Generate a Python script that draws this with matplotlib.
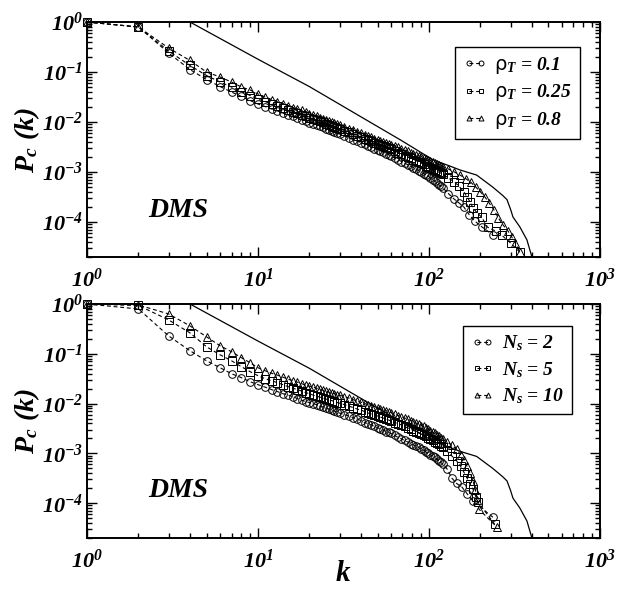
import matplotlib
matplotlib.use("Agg")
import matplotlib.pyplot as plt
from matplotlib.ticker import FuncFormatter, LogLocator, NullFormatter
import numpy as np

# shared degree grid for the dense part of every curve
k_grid = [1, 2, 3, 4, 5, 6, 7, 8, 9, 10,
          11, 12, 13, 14, 15, 16, 17, 18, 19, 20,
          21, 22, 23, 24, 25, 26, 27, 28, 29, 30,
          32, 34, 36, 38, 40, 42, 44, 46, 48, 50,
          52, 54, 56, 58, 60, 63, 66, 69, 72, 75,
          78, 81, 84, 87, 90, 93, 96, 99, 102, 105,
          108, 111, 114, 117, 120]

# top panel: rho_T series
p_rho01 = [1.0, 0.794, 0.240, 0.112, 0.0708, 0.0513, 0.0398, 0.0324, 0.0269, 0.0229,
           0.0204, 0.0182, 0.0166, 0.0151, 0.0138, 0.0129, 0.0120, 0.0112, 0.0105, 0.00977,
           0.00933, 0.00891, 0.00832, 0.00794, 0.00741, 0.00708, 0.00661, 0.00631, 0.00603, 0.00575,
           0.00525, 0.00479, 0.00447, 0.00417, 0.00389, 0.00363, 0.00339, 0.00316, 0.00295, 0.00282,
           0.00263, 0.00251, 0.00234, 0.00224, 0.00209, 0.00191, 0.00178, 0.00162, 0.00151, 0.00141,
           0.00132, 0.00123, 0.00115, 0.00107, 0.00100, 0.000933, 0.000891, 0.000832, 0.000759, 0.000708,
           0.000661, 0.000603, 0.000562, 0.000525, 0.000490]
k_rho01_tail = [130, 140, 150, 160, 172, 185, 205, 237]
p_rho01_tail = [0.00037, 0.00029, 0.00024, 0.00020, 0.00014, 0.000105, 0.000079, 0.000055]

p_rho025 = [1.0, 0.794, 0.263, 0.135, 0.0851, 0.0631, 0.0501, 0.0407, 0.0339, 0.0288,
            0.0257, 0.0229, 0.0209, 0.0191, 0.0174, 0.0162, 0.0151, 0.0141, 0.0132, 0.0123,
            0.0115, 0.0110, 0.0105, 0.0100, 0.00933, 0.00891, 0.00851, 0.00813, 0.00776, 0.00741,
            0.00676, 0.00631, 0.00575, 0.00537, 0.00501, 0.00468, 0.00437, 0.00417, 0.00389, 0.00372,
            0.00347, 0.00331, 0.00316, 0.00302, 0.00288, 0.00263, 0.00245, 0.00229, 0.00214, 0.00200,
            0.00191, 0.00178, 0.00170, 0.00158, 0.00151, 0.00145, 0.00135, 0.00129, 0.00123, 0.00117,
            0.00112, 0.00107, 0.00100, 0.000955, 0.000912]
k_rho025_tail = [130, 141, 150, 160, 168, 174, 181, 192, 203, 220, 245, 266, 300, 340]
p_rho025_tail = [0.00076, 0.00063, 0.00052, 0.00040, 0.00031, 0.00025, 0.00019,
                 0.000151, 0.000126, 0.000079, 0.000066, 0.000055, 0.000038, 0.000025]

p_rho08 = [1.0, 0.794, 0.302, 0.170, 0.100, 0.0794, 0.0631, 0.0501, 0.0437, 0.0363,
           0.0316, 0.0282, 0.0257, 0.0234, 0.0214, 0.0195, 0.0182, 0.0170, 0.0158, 0.0148,
           0.0138, 0.0132, 0.0123, 0.0117, 0.0110, 0.0105, 0.0100, 0.00955, 0.00912, 0.00871,
           0.00813, 0.00741, 0.00692, 0.00646, 0.00603, 0.00562, 0.00525, 0.00501, 0.00468, 0.00447,
           0.00427, 0.00407, 0.00389, 0.00372, 0.00355, 0.00331, 0.00316, 0.00295, 0.00275, 0.00263,
           0.00245, 0.00234, 0.00224, 0.00214, 0.00200, 0.00191, 0.00182, 0.00178, 0.00170, 0.00162,
           0.00155, 0.00148, 0.00141, 0.00135, 0.00129]
k_rho08_tail = [130, 141, 152, 164, 176, 188, 200, 212, 225, 240, 255, 270, 290, 305, 320, 340]
p_rho08_tail = [0.00115, 0.00100, 0.00087, 0.00074, 0.00062, 0.00050, 0.00040, 0.00032,
                0.00024, 0.000174, 0.000120, 0.000089, 0.000066, 0.000050, 0.000038,
                0.000025]

# bottom panel: N_s series
p_ns2 = [1.0, 0.794, 0.229, 0.115, 0.0724, 0.0525, 0.0398, 0.0331, 0.0275, 0.0240,
         0.0214, 0.0191, 0.0174, 0.0158, 0.0148, 0.0138, 0.0126, 0.0117, 0.0110, 0.0105,
         0.0100, 0.00955, 0.00891, 0.00851, 0.00813, 0.00776, 0.00741, 0.00708, 0.00676, 0.00646,
         0.00603, 0.00562, 0.00525, 0.00490, 0.00457, 0.00417, 0.00398, 0.00372, 0.00347, 0.00331,
         0.00309, 0.00295, 0.00275, 0.00263, 0.00251, 0.00229, 0.00209, 0.00195, 0.00182, 0.00170,
         0.00158, 0.00148, 0.00141, 0.00132, 0.00123, 0.00117, 0.00107, 0.00100, 0.000933, 0.000891,
         0.000832, 0.000776, 0.000708, 0.000661, 0.000617]
k_ns2_tail = [128, 136, 145, 156, 168, 181, 237]
p_ns2_tail = [0.00048, 0.00032, 0.00025, 0.00021, 0.000151, 0.00011, 0.000052]

p_ns5 = [1.0, 0.933, 0.479, 0.263, 0.138, 0.0955, 0.0724, 0.0550, 0.0437, 0.0363,
         0.0316, 0.0288, 0.0263, 0.0240, 0.0219, 0.0204, 0.0191, 0.0178, 0.0166, 0.0158,
         0.0148, 0.0141, 0.0135, 0.0129, 0.0123, 0.0120, 0.0115, 0.0110, 0.0105, 0.0102,
         0.00955, 0.00891, 0.00832, 0.00776, 0.00741, 0.00692, 0.00646, 0.00617, 0.00589, 0.00562,
         0.00537, 0.00513, 0.00490, 0.00468, 0.00447, 0.00417, 0.00398, 0.00372, 0.00347, 0.00324,
         0.00309, 0.00288, 0.00275, 0.00257, 0.00245, 0.00229, 0.00219, 0.00204, 0.00195, 0.00182,
         0.00170, 0.00162, 0.00151, 0.00141, 0.00132]
k_ns5_tail = [128, 136, 145, 153, 160, 167, 174, 181, 188, 194, 242]
p_ns5_tail = [0.00110, 0.00089, 0.00071, 0.00055, 0.00042, 0.00032, 0.00024, 0.00019,
              0.000135, 0.000105, 0.000038]

p_ns10 = [1.0, 0.955, 0.631, 0.363, 0.219, 0.145, 0.110, 0.0832, 0.0661, 0.0525,
          0.0457, 0.0407, 0.0372, 0.0339, 0.0309, 0.0288, 0.0269, 0.0251, 0.0234, 0.0224,
          0.0214, 0.0204, 0.0195, 0.0186, 0.0178, 0.0170, 0.0162, 0.0158, 0.0151, 0.0148,
          0.0138, 0.0129, 0.0120, 0.0112, 0.0107, 0.0100, 0.00955, 0.00912, 0.00871, 0.00832,
          0.00794, 0.00759, 0.00724, 0.00692, 0.00661, 0.00617, 0.00575, 0.00550, 0.00513, 0.00490,
          0.00457, 0.00437, 0.00407, 0.00389, 0.00363, 0.00347, 0.00324, 0.00302, 0.00282, 0.00269,
          0.00251, 0.00234, 0.00219, 0.00204, 0.00191]
k_ns10_tail = [128, 136, 145, 153, 160, 167, 174, 181, 187, 192, 196, 250]
p_ns10_tail = [0.00170, 0.00145, 0.00120, 0.00095, 0.00074, 0.00055, 0.00040, 0.00028,
               0.000186, 0.000115, 0.000076, 0.000033]

# reference solid curve (same in both panels)
k_ref = [4, 10, 20, 43, 68, 106, 130, 152, 190, 236, 270, 286, 300, 310, 340, 374, 400]
p_ref = [1.0, 0.18, 0.051, 0.011, 0.0044, 0.00174, 0.00135, 0.0011, 0.00087, 0.0005,
         0.00034, 0.00028, 0.00018, 0.000126, 0.00008, 0.000044, 0.00002]

labels_top = [r"$\mathsf{\rho}_{T}$ = 0.1", r"$\mathsf{\rho}_{T}$ = 0.25", r"$\mathsf{\rho}_{T}$ = 0.8"]
labels_bot = [r"$N_s$ = 2", r"$N_s$ = 5", r"$N_s$ = 10"]
markers = ["o", "s", "^"]

plt.rcParams['font.family'] = 'Liberation Serif'
plt.rcParams['font.weight'] = 'bold'
plt.rcParams['font.style'] = 'italic'
plt.rcParams['mathtext.fontset'] = 'custom'
plt.rcParams['mathtext.rm'] = 'Liberation Serif:bold:italic'
plt.rcParams['mathtext.it'] = 'Liberation Serif:bold:italic'
plt.rcParams['mathtext.bf'] = 'Liberation Serif:bold:italic'
plt.rcParams['mathtext.sf'] = 'DejaVu Sans:style=normal:weight=normal'


def pow_label(v, pos):
    return r"$10^{%d}$" % int(round(np.log10(v)))


def draw_panel(ax, series, labels, leg_anchor, dms_y):
    for (k, p), m, lab in zip(series, markers, labels):
        ax.plot(k, p, linestyle=(0, (3.5, 2.5)), color="black", lw=0.8,
                marker=m, markersize=5.5, markerfacecolor="none",
                markeredgecolor="black", markeredgewidth=0.7,
                label=lab, clip_on=False, zorder=3)
    ax.plot(k_ref, p_ref, "-", color="black", lw=0.9, zorder=2)

    ax.set_xscale("log")
    ax.set_yscale("log")
    ax.set_xlim(1, 1000)
    ax.set_ylim(2e-5, 1.0)

    ax.xaxis.set_major_locator(LogLocator(base=10, numticks=10))
    ax.xaxis.set_minor_locator(LogLocator(base=10, subs=np.arange(2, 10), numticks=10))
    ax.yaxis.set_major_locator(LogLocator(base=10, numticks=10))
    ax.yaxis.set_minor_locator(LogLocator(base=10, subs=np.arange(2, 10), numticks=10))
    ax.xaxis.set_major_formatter(FuncFormatter(pow_label))
    ax.yaxis.set_major_formatter(FuncFormatter(pow_label))
    ax.xaxis.set_minor_formatter(NullFormatter())
    ax.yaxis.set_minor_formatter(NullFormatter())

    ax.tick_params(which="both", direction="in", top=True, right=True, width=1.0)
    ax.tick_params(which="major", length=7, labelsize=16)
    ax.tick_params(which="minor", length=3.5)
    ax.tick_params(axis="x", which="major", pad=8)
    ax.tick_params(axis="y", which="major", pad=3)
    for s in ax.spines.values():
        s.set_linewidth(1.4)

    ax.set_ylabel(r"$P_c\ (k)$", fontsize=20, labelpad=0)
    ax.text(0.12, dms_y, "DMS", transform=ax.transAxes, fontsize=20)

    leg = ax.legend(loc="upper right", bbox_to_anchor=leg_anchor, fontsize=14,
                    numpoints=2, handlelength=1.2, handletextpad=0.4,
                    markerscale=0.65, labelspacing=0.35, borderpad=0.4,
                    borderaxespad=0, fancybox=False, framealpha=1, edgecolor="black")
    leg.get_frame().set_linewidth(1.0)


fig = plt.figure(figsize=(6.18, 5.93), dpi=100)
ax1 = fig.add_axes([0.1408, 0.5666, 0.830, 0.3963])
ax2 = fig.add_axes([0.1408, 0.0927, 0.830, 0.3947])

top = [(k_grid + k_rho01_tail, p_rho01 + p_rho01_tail),
       (k_grid + k_rho025_tail, p_rho025 + p_rho025_tail),
       (k_grid + k_rho08_tail, p_rho08 + p_rho08_tail)]
bot = [(k_grid + k_ns2_tail, p_ns2 + p_ns2_tail),
       (k_grid + k_ns5_tail, p_ns5 + p_ns5_tail),
       (k_grid + k_ns10_tail, p_ns10 + p_ns10_tail)]

draw_panel(ax1, top, labels_top, (0.961, 0.894), 0.17)
draw_panel(ax2, bot, labels_bot, (0.945, 0.906), 0.175)
ax2.set_xlabel(r"$k$", fontsize=21, labelpad=-8)

fig.savefig("out.png", dpi=100)
